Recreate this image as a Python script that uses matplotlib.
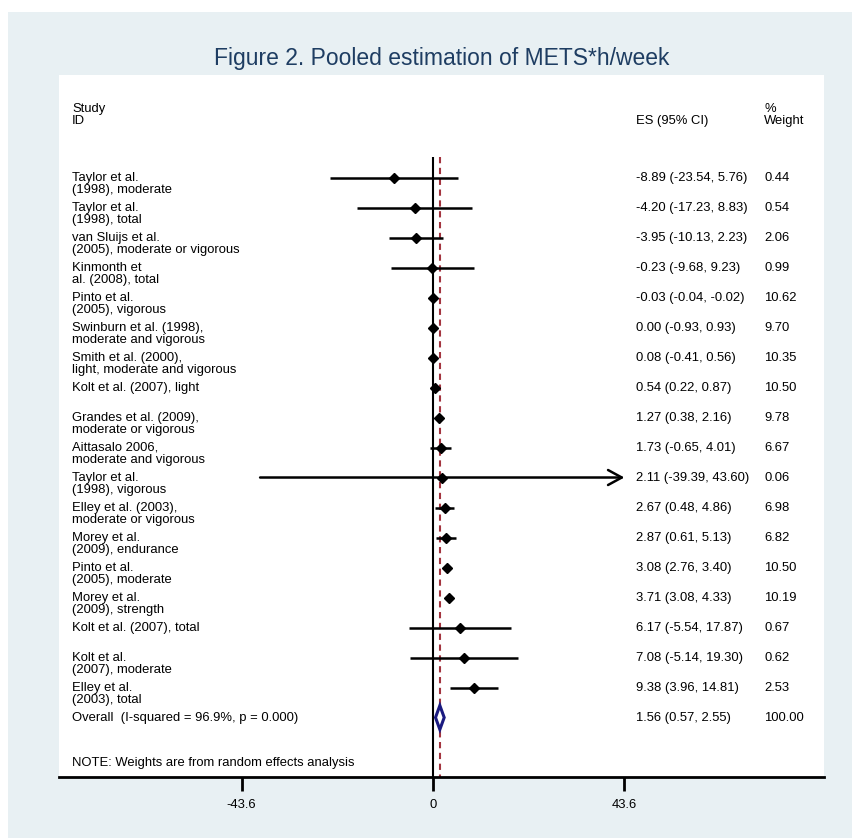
import matplotlib.pyplot as plt
from matplotlib.patches import Polygon, Rectangle

plt.rcParams["font.family"] = ["Liberation Sans", "DejaVu Sans"]

# ---- study-level estimates (METS*h/week) ---------------------------------
labels = [
    "Taylor et al.\n(1998), moderate",
    "Taylor et al.\n(1998), total",
    "van Sluijs et al.\n(2005), moderate or vigorous",
    "Kinmonth et\nal. (2008), total",
    "Pinto et al.\n(2005), vigorous",
    "Swinburn et al. (1998),\nmoderate and vigorous",
    "Smith et al. (2000),\nlight, moderate and vigorous",
    "Kolt et al. (2007), light",
    "Grandes et al. (2009),\nmoderate or vigorous",
    "Aittasalo 2006,\nmoderate and vigorous",
    "Taylor et al.\n(1998), vigorous",
    "Elley et al. (2003),\nmoderate or vigorous",
    "Morey et al.\n(2009), endurance",
    "Pinto et al.\n(2005), moderate",
    "Morey et al.\n(2009), strength",
    "Kolt et al. (2007), total",
    "Kolt et al.\n(2007), moderate",
    "Elley et al.\n(2003), total",
]
es = [-8.89, -4.20, -3.95, -0.23, -0.03, 0.00, 0.08, 0.54, 1.27,
      1.73, 2.11, 2.67, 2.87, 3.08, 3.71, 6.17, 7.08, 9.38]
ci_lo = [-23.54, -17.23, -10.13, -9.68, -0.04, -0.93, -0.41, 0.22, 0.38,
         -0.65, -39.39, 0.48, 0.61, 2.76, 3.08, -5.54, -5.14, 3.96]
ci_hi = [5.76, 8.83, 2.23, 9.23, -0.02, 0.93, 0.56, 0.87, 2.16,
         4.01, 43.60, 4.86, 5.13, 3.40, 4.33, 17.87, 19.30, 14.81]
weights = [0.44, 0.54, 2.06, 0.99, 10.62, 9.70, 10.35, 10.50, 9.78,
           6.67, 0.06, 6.98, 6.82, 10.50, 10.19, 0.67, 0.62, 2.53]

overall_label = "Overall  (I-squared = 96.9%, p = 0.000)"
overall_es, overall_lo, overall_hi, overall_w = 1.56, 0.57, 2.55, 100.00

x_ticks = [-43.6, 0, 43.6]
x_ticklabels = ["-43.6", "0", "43.6"]
x_limits = (-85.2, 89.07)

BG = "#e8f0f3"
TITLE_COLOR = "#1e3d62"
FS = 9.4

fig = plt.figure(figsize=(8.53, 8.38), dpi=100, facecolor="white")
fig.patches.append(Rectangle((8 / 853, 0), 1, 826 / 838, transform=fig.transFigure,
                             facecolor=BG, edgecolor="none", zorder=-10))

ax = fig.add_axes([59 / 853, 61 / 838, 765 / 853, 702 / 838])
ax.set_facecolor("white")
n = len(labels)
ax.set_xlim(*x_limits)
ax.set_ylim(19.983, -3.417)

for s in ("top", "left", "right"):
    ax.spines[s].set_visible(False)
ax.spines["bottom"].set_linewidth(2)
ax.set_yticks([])
ax.set_xticks(x_ticks)
ax.set_xticklabels(x_ticklabels)
ax.tick_params(axis="x", length=10, width=2, pad=6, labelsize=FS)

# null line and pooled estimate line
ax.vlines(0, -0.68, 19.983, color="black", lw=1.5, zorder=2)
ax.vlines(overall_es, -0.68, 19.983, color="#a3343f", lw=1.5,
          linestyles=(0, (3, 2.2)), zorder=2)

tx = ax.get_yaxis_transform()
for i, (lab, e, lo, hi, w) in enumerate(zip(labels, es, ci_lo, ci_hi, weights)):
    # clip intervals to the displayed range, arrow where clipped
    hi_c = min(hi, x_ticks[-1])
    lo_c = max(lo, x_ticks[0])
    if hi >= x_ticks[-1]:
        ax.annotate("", xy=(hi_c, i), xytext=(lo_c, i),
                    arrowprops=dict(arrowstyle="->,head_length=0.55,head_width=0.3",
                                    lw=1.8, color="black", mutation_scale=18,
                                    shrinkA=0, shrinkB=0),
                    zorder=3)
    else:
        ax.plot([lo_c, hi_c], [i, i], color="black", lw=1.8,
                solid_capstyle="butt", zorder=3)
    ax.plot(e, i, marker="D", color="black", markersize=5.3, zorder=4)

    for k, line in enumerate(lab.split("\n")):
        ax.text(0.017, i + 0.43 * k, line, transform=tx, fontsize=FS,
                va="center", ha="left")
    ax.text(0.7543, i, f"{e:.2f} ({lo:.2f}, {hi:.2f})", transform=tx,
            fontsize=FS, va="center", ha="left")
    ax.text(0.9216, i, f"{w:.2f}", transform=tx, fontsize=FS,
            va="center", ha="left")

# pooled diamond
yo = n
ax.add_patch(Polygon([(overall_lo, yo), (overall_es, yo - 0.4),
                      (overall_hi, yo), (overall_es, yo + 0.4)],
                     closed=True, facecolor="white", edgecolor="#1a1a80",
                     lw=2.2, zorder=5))
ax.text(0.017, yo, overall_label, transform=tx, fontsize=FS, va="center")
ax.text(0.7543, yo, f"{overall_es:.2f} ({overall_lo:.2f}, {overall_hi:.2f})",
        transform=tx, fontsize=FS, va="center")
ax.text(0.9216, yo, f"{overall_w:.2f}", transform=tx, fontsize=FS, va="center")

# column headers
ax.text(0.017, -2.3, "Study", transform=tx, fontsize=FS, va="center")
ax.text(0.017, -1.9, "ID", transform=tx, fontsize=FS, va="center")
ax.text(0.7543, -1.9, "ES (95% CI)", transform=tx, fontsize=FS, va="center")
ax.text(0.9216, -2.3, "%", transform=tx, fontsize=FS, va="center")
ax.text(0.9216, -1.9, "Weight", transform=tx, fontsize=FS, va="center")

ax.text(0.017, 19.52, "NOTE: Weights are from random effects analysis",
        transform=tx, fontsize=FS, va="center")

fig.text(441.5 / 853, 1 - 59 / 838, "Figure 2. Pooled estimation of METS*h/week",
         ha="center", va="center", fontsize=16.5, color=TITLE_COLOR)

fig.savefig("out.png", dpi=100, facecolor=fig.get_facecolor())
